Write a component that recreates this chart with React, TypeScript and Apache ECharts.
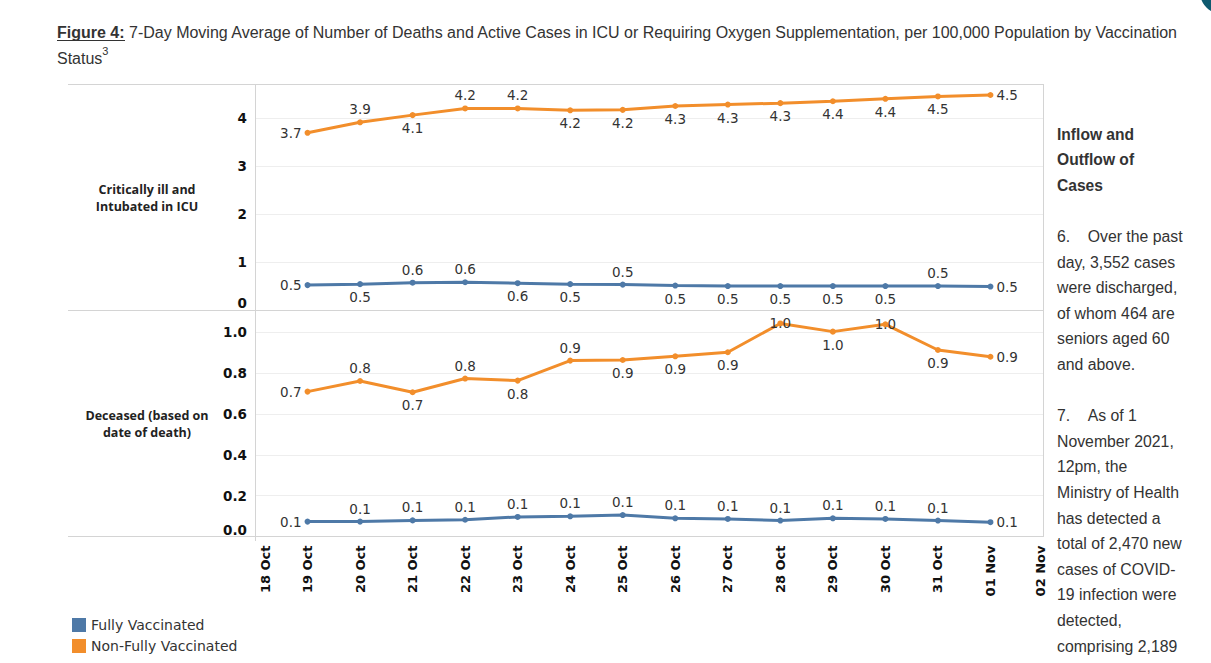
import React, { useEffect, useRef } from "react";
import * as echarts from "echarts";

const dates = ["18 Oct", "19 Oct", "20 Oct", "21 Oct", "22 Oct", "23 Oct", "24 Oct", "25 Oct", "26 Oct", "27 Oct", "28 Oct", "29 Oct", "30 Oct", "31 Oct", "01 Nov", "02 Nov"];

const icuFully = [null, 0.52, 0.54, 0.57, 0.58, 0.56, 0.54, 0.53, 0.51, 0.5, 0.5, 0.5, 0.5, 0.5, 0.49, null];
const icuNonFully = [null, 3.7, 3.92, 4.07, 4.21, 4.21, 4.17, 4.18, 4.26, 4.29, 4.32, 4.36, 4.41, 4.46, 4.49, null];
const deathFully = [null, 0.073, 0.073, 0.079, 0.082, 0.096, 0.099, 0.105, 0.089, 0.086, 0.078, 0.089, 0.086, 0.078, 0.07, null];
const deathNonFully = [null, 0.71, 0.762, 0.707, 0.774, 0.764, 0.862, 0.865, 0.883, 0.903, 1.044, 1.004, 1.04, 0.914, 0.881, null];

const icuTicks = [0, 1, 2, 3, 4];
const deathTicks = ["0.0", "0.2", "0.4", "0.6", "0.8", "1.0"];

// label placement (style)
const posIcuFully = ["", "left", "bottom", "top", "top", "bottom", "bottom", "top", "bottom", "bottom", "bottom", "bottom", "bottom", "top", "right", ""];
const posIcuNonFully = ["", "left", "top", "bottom", "top", "top", "bottom", "bottom", "bottom", "bottom", "bottom", "bottom", "bottom", "bottom", "right", ""];
const posDeathFully = ["", "left", "top", "top", "top", "top", "top", "top", "top", "top", "top", "top", "top", "top", "right", ""];
const posDeathNonFully = ["", "left", "top", "bottom", "top", "bottom", "top", "bottom", "bottom", "bottom", "inside", "bottom", "inside", "bottom", "right", ""];

const BLUE = "#4e79a7";
const ORANGE = "#f28e2b";
const BORDER = "#d4d4d4";

function mkSeries(name: string, values: (number | null)[], pos: string[], idx: number, color: string) {
  return {
    type: "line",
    name,
    xAxisIndex: idx,
    yAxisIndex: idx,
    data: values.map((v, i) => (v == null ? "-" : { value: v, label: { position: pos[i] } })),
    symbol: "circle",
    symbolSize: 6,
    lineStyle: { width: 3, color },
    itemStyle: { color },
    label: {
      show: true,
      distance: 3,
      fontFamily: "DejaVu Sans",
      fontSize: 13.5,
      color: "#333",
      formatter: (p: any) => Number(p.value).toFixed(1),
    },
    z: 3,
  };
}

export default function App() {
  const ref = useRef<HTMLDivElement>(null);
  useEffect(() => {
    if (!ref.current) return;
    const chart = echarts.init(ref.current, null, { renderer: "svg" });
    const labelBase = { fontFamily: "DejaVu Sans", fontWeight: "bold", fontSize: 13, color: "#111" };
    const option: any = {
      animation: false,
      textStyle: { fontFamily: "DejaVu Sans" },
      grid: [
        { left: 255, top: 84, width: 788, height: 226 },
        { left: 255, top: 310, width: 788, height: 226.5 },
      ],
      xAxis: [
        {
          type: "category", gridIndex: 0, data: dates, boundaryGap: false,
          axisLine: { show: false }, axisTick: { show: false }, axisLabel: { show: false }, splitLine: { show: false },
        },
        {
          type: "category", gridIndex: 1, data: dates, boundaryGap: false,
          axisLine: { show: false }, axisTick: { show: false }, splitLine: { show: false },
          axisLabel: {
            ...labelBase, rotate: 90, margin: 9, interval: 0,
            formatter: (v: string, i: number) => (i === 0 ? `{f|${v}}` : i === dates.length - 1 ? `{l|${v}}` : v),
            rich: {
              f: { ...labelBase, padding: [20, 0, 0, 0] },
              l: { ...labelBase, padding: [0, 0, 6, 0] },
            },
          },
        },
      ],
      yAxis: [
        {
          type: "value", gridIndex: 0, min: 0, max: 4.72, interval: 1,
          axisLine: { show: false }, axisTick: { show: false },
          splitLine: { lineStyle: { color: "#eeeeee" } },
          axisLabel: {
            ...labelBase, fontSize: 13.5, margin: 8, showMaxLabel: false, verticalAlignMinLabel: "bottom",
            formatter: (v: number) => { const i = icuTicks.indexOf(Math.round(v)); return i >= 0 && Math.abs(v - Math.round(v)) < 1e-6 ? String(icuTicks[i]) : ""; },
          },
        },
        {
          type: "value", gridIndex: 1, min: 0, max: 1.11, interval: 0.2,
          axisLine: { show: false }, axisTick: { show: false },
          splitLine: { lineStyle: { color: "#eeeeee" } },
          axisLabel: {
            ...labelBase, fontSize: 13.5, margin: 8, showMaxLabel: false, verticalAlignMinLabel: "bottom",
            formatter: (v: number) => { const s = v.toFixed(1); return deathTicks.includes(s) && Math.abs(v * 5 - Math.round(v * 5)) < 1e-6 ? s : ""; },
          },
        },
      ],
      legend: {
        orient: "vertical", left: 72, top: 618, itemWidth: 14, itemHeight: 14, itemGap: 7, icon: "rect",
        selectedMode: false, padding: 0,
        textStyle: { fontFamily: "DejaVu Sans", fontSize: 14, color: "#333" },
        data: ["Fully Vaccinated", "Non-Fully Vaccinated"],
      },
      series: [
        mkSeries("Fully Vaccinated", icuFully, posIcuFully, 0, BLUE),
        mkSeries("Non-Fully Vaccinated", icuNonFully, posIcuNonFully, 0, ORANGE),
        mkSeries("Fully Vaccinated", deathFully, posDeathFully, 1, BLUE),
        mkSeries("Non-Fully Vaccinated", deathNonFully, posDeathNonFully, 1, ORANGE),
      ],
      graphic: [
        { type: "line", shape: { x1: 68, y1: 84.5, x2: 1043.5, y2: 84.5 }, style: { stroke: BORDER, lineWidth: 1 }, z: 1 },
        { type: "line", shape: { x1: 68, y1: 310.5, x2: 1043.5, y2: 310.5 }, style: { stroke: BORDER, lineWidth: 1 }, z: 1 },
        { type: "line", shape: { x1: 68, y1: 536.5, x2: 1043.5, y2: 536.5 }, style: { stroke: BORDER, lineWidth: 1 }, z: 1 },
        { type: "line", shape: { x1: 255.5, y1: 84, x2: 255.5, y2: 541 }, style: { stroke: BORDER, lineWidth: 1 }, z: 1 },
        { type: "line", shape: { x1: 1043.5, y1: 84, x2: 1043.5, y2: 537 }, style: { stroke: BORDER, lineWidth: 1 }, z: 1 },
        {
          type: "text",
          style: {
            text: "Critically ill and\nIntubated in ICU", x: 147, y: 197.5, align: "center", verticalAlign: "middle",
            fontFamily: "Open Sans", fontWeight: "bold", fontSize: 12.5, lineHeight: 17, fill: "#222",
          },
        },
        {
          type: "text",
          style: {
            text: "Deceased (based on\ndate of death)", x: 147, y: 424, align: "center", verticalAlign: "middle",
            fontFamily: "Open Sans", fontWeight: "bold", fontSize: 12.5, lineHeight: 17, fill: "#222",
          },
        },
        {
          type: "text",
          style: {
            text: "{u|Figure 4:}{n| 7-Day Moving Average of Number of Deaths and Active Cases in ICU or Requiring Oxygen Supplementation, per 100,000 Population by Vaccination}\n{n|Status}{sup|3}",
            x: 57, y: 19, align: "left", verticalAlign: "top",
            fontFamily: "Liberation Sans", fontSize: 16, lineHeight: 26, fill: "#333",
            rich: {
              u: { fontFamily: "Liberation Sans", fontWeight: "bold", fontSize: 16, lineHeight: 26, fill: "#333" },
              n: { fontFamily: "Liberation Sans", fontSize: 16, lineHeight: 26, fill: "#333" },
              sup: { fontFamily: "Liberation Sans", fontSize: 11, lineHeight: 14, verticalAlign: "top", fill: "#333" },
            },
          },
        },
        { type: "line", shape: { x1: 57, y1: 40.5, x2: 125, y2: 40.5 }, style: { stroke: "#333", lineWidth: 1 } },
        {
          type: "text",
          style: {
            text: "Inflow and\nOutflow of\nCases", x: 1057, y: 121.2, align: "left", verticalAlign: "top",
            fontFamily: "Liberation Sans", fontWeight: "bold", fontSize: 15.6, lineHeight: 25.6, fill: "#333",
          },
        },
        {
          type: "text",
          style: {
            text: "6.\u00a0\u00a0\u00a0\u00a0Over the past\nday, 3,552 cases\nwere discharged,\nof whom 464 are\nseniors aged 60\nand above.",
            x: 1057, y: 223.6, align: "left", verticalAlign: "top",
            fontFamily: "Liberation Sans", fontSize: 15.8, lineHeight: 25.6, fill: "#333",
          },
        },
        {
          type: "text",
          style: {
            text: "7.\u00a0\u00a0\u00a0\u00a0As of 1\nNovember 2021,\n12pm, the\nMinistry of Health\nhas detected a\ntotal of 2,470 new\ncases of COVID-\n19 infection were\ndetected,\ncomprising 2,189",
            x: 1057, y: 402.8, align: "left", verticalAlign: "top",
            fontFamily: "Liberation Sans", fontSize: 15.8, lineHeight: 25.6, fill: "#333",
          },
        },
        { type: "circle", shape: { cx: 1222, cy: -8, r: 22 }, style: { fill: "#0e5a6f" } },
      ],
    };
    chart.setOption(option);
    return () => chart.dispose();
  }, []);
  return (
    <div
      ref={ref}
      style={{ position: "absolute", left: 0, top: 0, width: 1211, height: 663, background: "#fff" }}
    />
  );
}
